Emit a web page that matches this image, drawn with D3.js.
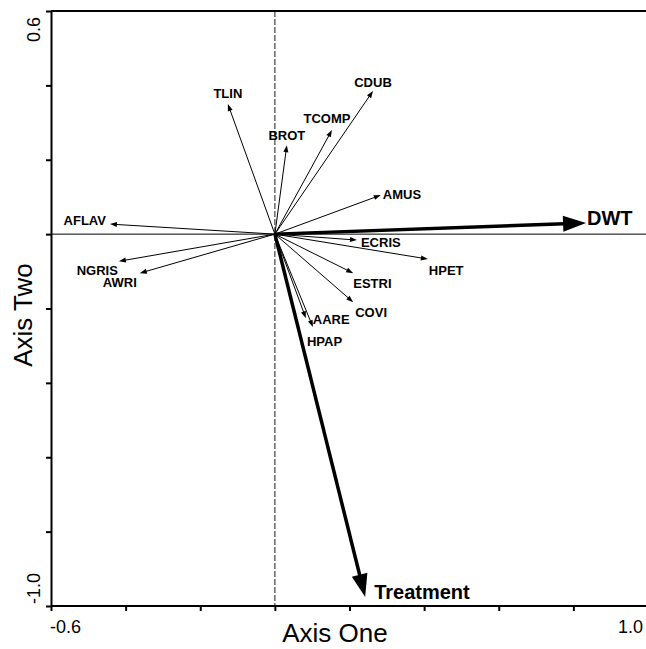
<!DOCTYPE html>
<html>
<head>
<meta charset="utf-8">
<script src="https://cdn.jsdelivr.net/npm/d3@7"></script>
<style>
  body { margin: 0; background: #fff; }
  text { font-family: Arial, "Liberation Sans", sans-serif; fill: #000; }
  .lab { font-size: 13px; font-weight: bold; }
  .env { font-size: 20px; font-weight: bold; }
  .axis path, .axis line { stroke: #000; stroke-width: 2; }
</style>
</head>
<body>
<div id="vis"></div>
<script>
// species vectors (axis one, axis two)
let species = ['TLIN', 'BROT', 'TCOMP', 'CDUB', 'AMUS', 'ECRIS', 'HPET', 'ESTRI', 'COVI', 'AARE', 'HPAP', 'AFLAV', 'NGRIS', 'AWRI'];
let speciesOne = [-0.126, 0.032, 0.153, 0.263, 0.284, 0.220, 0.410, 0.210, 0.210, 0.083, 0.102, -0.442, -0.418, -0.362];
let speciesTwo = [0.350, 0.239, 0.280, 0.385, 0.105, -0.016, -0.067, -0.105, -0.183, -0.226, -0.250, 0.027, -0.073, -0.105];

// environmental vectors
let envNames = ['DWT', 'Treatment'];
let envOne = [0.834, 0.242];
let envTwo = [0.030, -0.976];

let xTicks = [-0.6, -0.4, -0.2, 0, 0.2, 0.4, 0.6, 0.8, 1.0];
let yTicks = [-1.0, -0.8, -0.6, -0.4, -0.2, 0, 0.2, 0.4, 0.6];

// label placement: [anchor, dx, dy] relative to the arrow tip
let labelPlace = {
    TLIN: ['middle', 0, -6], BROT: ['middle', 0, -5], TCOMP: ['middle', -5, -7],
    CDUB: ['middle', 0, -4], AMUS: ['start', 2, 4], ECRIS: ['start', 4, 7],
    HPET: ['start', 1, 16], ESTRI: ['start', 0, 15], COVI: ['start', 2, 15],
    AARE: ['start', 7, 6], HPAP: ['start', -6, 19], AFLAV: ['end', -4, 1],
    NGRIS: ['end', -1, 14], AWRI: ['end', -3, 14],
    DWT: ['start', 1, 2], Treatment: ['start', 9, 2]
};

let W = 646, H = 649;
let svg = d3.select('#vis').append('svg').attr('width', W).attr('height', H);

let xScale = d3.scaleLinear().domain([-0.6, 1.0]).range([51, 648]);
let yScale = d3.scaleLinear().domain([-1.0, 0.6]).range([606, 11]);

// zero lines
svg.append('line')
    .attr('x1', xScale(-0.6)).attr('x2', W)
    .attr('y1', yScale(0)).attr('y2', yScale(0))
    .attr('stroke', '#000').attr('stroke-width', 1);
svg.append('line')
    .attr('x1', xScale(0)).attr('x2', xScale(0))
    .attr('y1', yScale(0.6)).attr('y2', yScale(-1.0))
    .attr('stroke', '#444').attr('stroke-width', 1.2)
    .attr('stroke-dasharray', '6,2');

// top frame line
svg.append('line')
    .attr('x1', xScale(-0.6)).attr('x2', W)
    .attr('y1', yScale(0.6)).attr('y2', yScale(0.6))
    .attr('stroke', '#000').attr('stroke-width', 2);

// axes
let xAxis = d3.axisBottom(xScale).tickValues(xTicks).tickSize(5).tickSizeOuter(0).tickFormat('');
let yAxis = d3.axisLeft(yScale).tickValues(yTicks).tickSize(5).tickSizeOuter(0).tickFormat('');

svg.append('g').attr('class', 'axis')
    .attr('transform', `translate(0, ${yScale(-1.0)})`)
    .call(xAxis)
    .select('.domain').attr('d', `M${xScale(-0.6)},0H${W}`);
svg.append('g').attr('class', 'axis')
    .attr('transform', `translate(${xScale(-0.6)}, 0)`)
    .call(yAxis);

// end tick labels
svg.append('text').text('-0.6')
    .attr('x', xScale(-0.6) - 1).attr('y', 633)
    .style('font-size', '18px');
svg.append('text').text('1.0')
    .attr('x', 643).attr('y', 633).attr('text-anchor', 'end')
    .style('font-size', '18px');
svg.append('text').text('0.6')
    .attr('transform', `translate(40, ${yScale(0.6) + 6}) rotate(-90)`)
    .attr('text-anchor', 'end')
    .style('font-size', '18px');
svg.append('text').text('-1.0')
    .attr('transform', `translate(40, ${yScale(-1.0) - 2}) rotate(-90)`)
    .style('font-size', '18px');

// axis titles
svg.append('text').text('Axis One')
    .attr('x', 335).attr('y', 642).attr('text-anchor', 'middle')
    .style('font-size', '26px');
svg.append('text').text('Axis Two')
    .attr('transform', 'translate(32, 315) rotate(-90)')
    .attr('text-anchor', 'middle')
    .style('font-size', '26px');

// arrow drawing
let drawArrow = (v1, v2, lineW, headLen, headHalf) => {
    let x0 = xScale(0), y0 = yScale(0);
    let x1 = xScale(v1), y1 = yScale(v2);
    let dx = x1 - x0, dy = y1 - y0;
    let len = Math.sqrt(dx * dx + dy * dy);
    let ux = dx / len, uy = dy / len;
    let bx = x1 - ux * headLen, by = y1 - uy * headLen;
    svg.append('line')
        .attr('x1', x0).attr('y1', y0).attr('x2', bx + ux).attr('y2', by + uy)
        .attr('stroke', '#000').attr('stroke-width', lineW);
    svg.append('path')
        .attr('d', `M${x1},${y1}L${bx - uy * headHalf},${by + ux * headHalf}L${bx + uy * headHalf},${by - ux * headHalf}Z`)
        .attr('fill', '#000');
};

let putLabel = (name, v1, v2, cls) => {
    let p = labelPlace[name];
    svg.append('text').attr('class', cls).text(name)
        .attr('x', xScale(v1) + p[1]).attr('y', yScale(v2) + p[2])
        .attr('text-anchor', p[0]);
};

species.forEach((s, i) => {
    drawArrow(speciesOne[i], speciesTwo[i], 1, 7, 2.5);
    putLabel(s, speciesOne[i], speciesTwo[i], 'lab');
});

envNames.forEach((e, i) => {
    drawArrow(envOne[i], envTwo[i], 3.5, 23, 8);
    putLabel(e, envOne[i], envTwo[i], 'env');
});
</script>
</body>
</html>
